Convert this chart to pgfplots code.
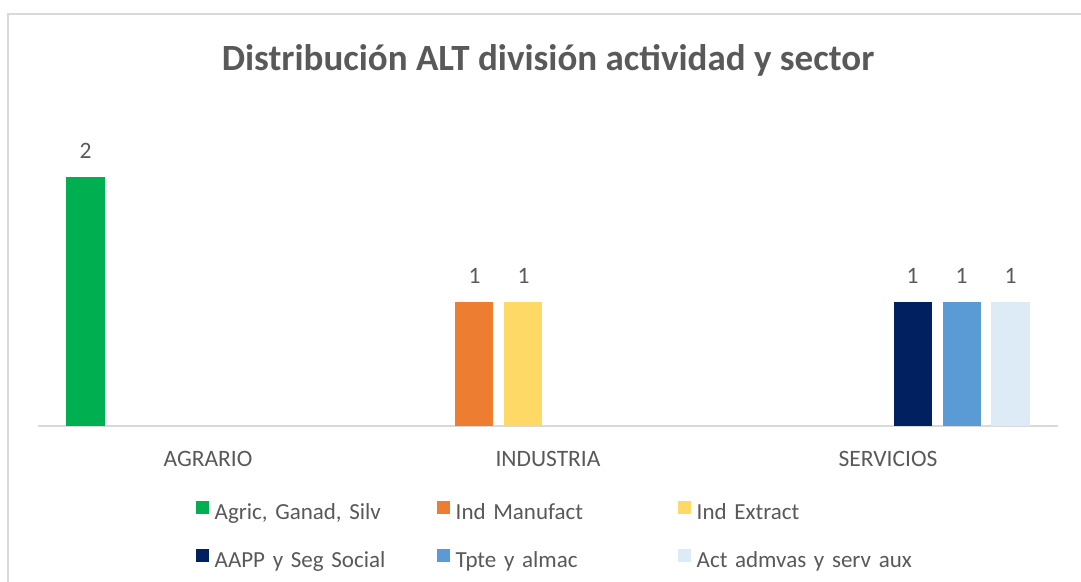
\documentclass[border=0pt]{standalone}
\usepackage{pgfplots}
\pgfplotsset{compat=1.18}
\usepackage{fontspec}
\setmainfont{Carlito}
\definecolor{cGreen}{HTML}{00B050}
\definecolor{cOrange}{HTML}{ED7D31}
\definecolor{cYellow}{HTML}{FFD966}
\definecolor{cNavy}{HTML}{002060}
\definecolor{cBlue}{HTML}{5B9BD5}
\definecolor{cLight}{HTML}{DDEBF7}
\definecolor{cText}{HTML}{595959}
\definecolor{cLine}{HTML}{D9D9D9}
\begin{document}
\begin{tikzpicture}[x=1pt,y=1pt]
\useasboundingbox (0,0) rectangle (1081,581);
\draw[cLine, line width=1.5pt] (8,-5) -- (8,567) -- (1090,567);
\begin{axis}[
  at={(38pt,155pt)}, anchor=south west,
  scale only axis, width=1020pt, height=311.25pt,
  xmin=-0.5, xmax=2.5, ymin=0, ymax=2.5,
  axis x line*=bottom, axis y line=none,
  x axis line style={draw=cLine, line width=1.5pt, -},
  xtick={0,1,2}, xticklabels={AGRARIO,INDUSTRIA,SERVICIOS},
  major tick length=0pt,
  /pgf/number format/assume math mode=true,
  xticklabel style={font=\fontsize{23.5}{28}\selectfont, text=cText, anchor=base, yshift=-40pt},
  title={Distribución ALT división actividad y sector},
  title style={at={(axis description cs:0.5,1.1213)}, anchor=base, font=\fontsize{37}{44}\selectfont\bfseries, text=cText},
  nodes near coords,
  every node near coord/.append style={font=\fontsize{23.5}{28}\selectfont, text=cText, anchor=base, yshift=18pt},
  legend columns=3,
  legend style={at={(axis description cs:0.1549,-0.2410)}, anchor=north west, draw=none, inner sep=0pt,
    row sep=25pt,
    /tikz/every odd column/.style={column sep=6pt},
    /tikz/every even column/.style={column sep=0pt},
    nodes={font=\fontsize{23}{28}\selectfont, text=cText, inner sep=0pt, text width=222.5pt, align=left, text height=16pt, text depth=5pt}},
  legend cell align=left,
  legend image code/.code={\fill[#1] (0pt,0pt) rectangle (12.5pt,12.5pt);},
]
\addplot[ybar, bar width=0.1118, bar shift=0, fill=cGreen, draw=none] coordinates {(-0.3603,2)};
\addlegendentry{Agric, Ganad, Silv}
\addplot[ybar, bar width=0.1118, bar shift=0, fill=cOrange, draw=none] coordinates {(0.7838,1)};
\addlegendentry{Ind Manufact}
\addplot[ybar, bar width=0.1118, bar shift=0, fill=cYellow, draw=none] coordinates {(0.9279,1)};
\addlegendentry{Ind Extract}
\addplot[ybar, bar width=0.1118, bar shift=0, fill=cNavy, draw=none] coordinates {(2.0721,1)};
\addlegendentry{AAPP y Seg Social}
\addplot[ybar, bar width=0.1118, bar shift=0, fill=cBlue, draw=none] coordinates {(2.2162,1)};
\addlegendentry{Tpte y almac}
\addplot[ybar, bar width=0.1118, bar shift=0, fill=cLight, draw=none] coordinates {(2.3603,1)};
\addlegendentry{Act admvas y serv aux}
\end{axis}
\end{tikzpicture}
\end{document}
